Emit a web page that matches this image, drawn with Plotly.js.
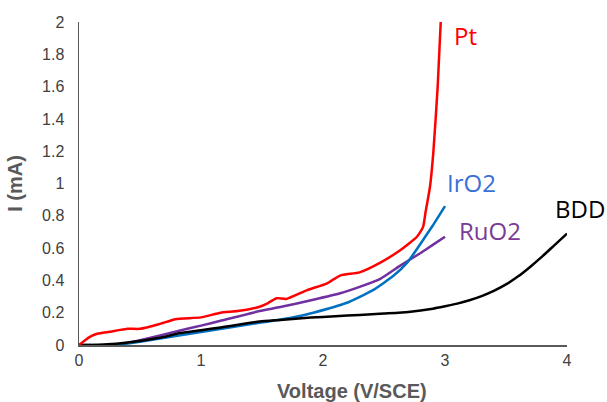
<!DOCTYPE html>
<html>
<head>
<meta charset="utf-8">
<script src="https://cdn.plot.ly/plotly-3.0.1.min.js"></script>
<style>html,body{margin:0;padding:0;background:#fff;}#chart{width:607px;height:402px;}</style>
</head>
<body>
<div id="chart"></div>
<script>
// Pt
const ptV = [0, 0.05, 0.1, 0.15, 0.25, 0.4, 0.5, 0.66, 0.79, 1.0, 1.16, 1.3, 1.48, 1.55, 1.62, 1.7, 1.87, 2.03, 2.14, 2.3, 2.47, 2.63, 2.7, 2.77, 2.82, 2.84, 2.877, 2.904, 2.94, 2.965];
const ptI = [0, 0.03, 0.055, 0.07, 0.082, 0.1, 0.1, 0.13, 0.16, 0.171, 0.2, 0.21, 0.237, 0.26, 0.29, 0.285, 0.34, 0.38, 0.43, 0.45, 0.51, 0.585, 0.625, 0.67, 0.73, 0.82, 0.98, 1.19, 1.6, 2.0];
// IrO2
const irV = [0, 0.3, 0.5, 1.0, 1.5, 1.75, 1.92, 2.19, 2.41, 2.58, 2.69, 2.82, 2.9, 3.0];
const irI = [0, 0, 0.02, 0.08, 0.14, 0.17, 0.2, 0.26, 0.34, 0.43, 0.51, 0.65, 0.74, 0.86];
// RuO2
const ruV = [0, 0.3, 0.5, 0.83, 1.0, 1.16, 1.48, 1.65, 1.92, 2.14, 2.3, 2.47, 2.63, 2.8, 2.9, 3.0];
const ruI = [0, 0, 0.03, 0.09, 0.12, 0.15, 0.21, 0.235, 0.28, 0.32, 0.36, 0.41, 0.49, 0.57, 0.62, 0.67];
// BDD
const bddV = [0, 0.2, 0.4, 0.66, 0.83, 1.0, 1.16, 1.48, 1.65, 1.9, 2.1, 2.3, 2.5, 2.7, 2.9, 3.0, 3.1, 3.2, 3.3, 3.4, 3.5, 3.6, 3.7, 3.8, 3.9, 4.0];
const bddI = [0, 0.003, 0.015, 0.045, 0.074, 0.092, 0.108, 0.145, 0.155, 0.17, 0.178, 0.186, 0.195, 0.205, 0.225, 0.24, 0.256, 0.277, 0.303, 0.335, 0.375, 0.425, 0.485, 0.55, 0.62, 0.69];

const seriesNames = ["Pt", "IrO2", "RuO2", "BDD"];
const xTicks = [0, 1, 2, 3, 4];
const yTicks = [0, 0.2, 0.4, 0.6, 0.8, 1, 1.2, 1.4, 1.6, 1.8, 2];

const mk = (x, y, c) => ({x, y, type: "scatter", mode: "lines", line: {color: c, width: 2.5, shape: "spline", smoothing: 0.5}, hoverinfo: "skip"});
const data = [
  mk(ruV, ruI, "#7030A0"),
  mk(irV, irI, "#0070C0"),
  mk(bddV, bddI, "#000000"),
  mk(ptV, ptI, "#FF0000")
];

const lab = (t, x, y, c) => ({text: t, xref: "paper", yref: "paper", x, y, xanchor: "center", yanchor: "middle", showarrow: false, font: {family: "Open Sans, Noto Sans, sans-serif", size: 24, color: c}});

const layout = {
  width: 607, height: 402,
  margin: {l: 79, r: 40, t: 22, b: 57, pad: 0},
  paper_bgcolor: "#fff", plot_bgcolor: "#fff",
  showlegend: false,
  font: {family: "Liberation Sans, Arial, sans-serif", size: 16, color: "#404040"},
  xaxis: {range: [0, 4], tickvals: xTicks, ticktext: xTicks.map(String), showgrid: false, zeroline: false,
          showline: true, linecolor: "#595959", linewidth: 1.5, ticks: "", ticklen: 0, tickfont: {size: 16, color: "#404040"}},
  yaxis: {range: [0, 2], tickvals: yTicks, ticktext: yTicks.map(String), showgrid: false, zeroline: false,
          showline: true, linecolor: "#595959", linewidth: 1.5, ticks: "outside", ticklen: 10, tickcolor: "rgba(0,0,0,0)", tickfont: {size: 16, color: "#404040"},
          title: {text: "<b>I (mA)</b>", font: {size: 20, color: "#595959"}, standoff: 14}},
  annotations: [
    lab(seriesNames[0], 0.791, 0.957, "#FF0000"),
    lab(seriesNames[1], 0.805, 0.502, "#3a6fd6"),
    lab(seriesNames[2], 0.842, 0.353, "#7a3a95"),
    lab(seriesNames[3], 1.027, 0.424, "#000000"),
    {text: "<b>Voltage (V/SCE)</b>", xref: "paper", yref: "paper", x: 0.559, y: -0.142, xanchor: "center", yanchor: "middle", showarrow: false,
     font: {family: "Liberation Sans, Arial, sans-serif", size: 20, color: "#595959"}}
  ]
};
Plotly.newPlot("chart", data, layout, {displayModeBar: false, staticPlot: true});
</script>
</body>
</html>
